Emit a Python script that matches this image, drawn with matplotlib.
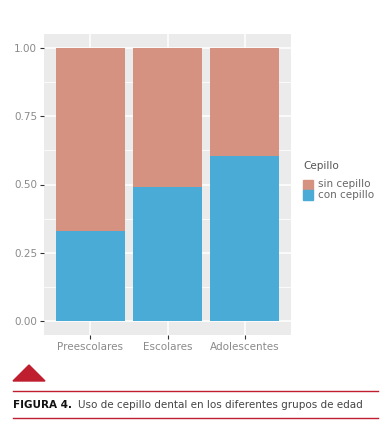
import numpy as np
import matplotlib.pyplot as plt
from matplotlib.patches import Polygon, Rectangle

# data
grupos = ['Preescolares', 'Escolares', 'Adolescentes']
con_cepillo = [0.33, 0.49, 0.605]
sin_cepillo = [1 - v for v in con_cepillo]
yticks = [0.0, 0.25, 0.5, 0.75, 1.0]

c_sin = '#D59281'
c_con = '#4BABD7'
tick_col = '#8a8a8a'

fig = plt.figure(figsize=(3.89, 4.43), dpi=100)
W, H = 389, 443
ax = fig.add_axes([44 / W, 1 - 335 / H, (291 - 44) / W, (335 - 34) / H])
ax.set_facecolor('#EBEBEB')

x = np.arange(1, len(grupos) + 1)
ax.bar(x, con_cepillo, width=0.9, color=c_con, zorder=3)
ax.bar(x, sin_cepillo, width=0.9, bottom=con_cepillo, color=c_sin, zorder=3)

ax.set_xlim(0.4, 3.6)
ax.set_ylim(-0.05, 1.05)
ax.set_yticks(yticks)
ax.set_yticklabels(['0.00', '0.25', '0.50', '0.75', '1.00'])
ax.set_yticks([0.125, 0.375, 0.625, 0.875], minor=True)
ax.set_xticks(x)
ax.set_xticklabels(grupos)
ax.grid(True, which='major', color='white', linewidth=1.1, zorder=0)
ax.grid(True, which='minor', axis='y', color='white', linewidth=0.55, zorder=0)
ax.tick_params(which='minor', length=0)
ax.tick_params(which='major', length=3, width=0.8, color='#333333',
               labelsize=7.5, labelcolor=tick_col, pad=2)
for s in ax.spines.values():
    s.set_visible(False)

# legend
fig.text(303 / W, 1 - 166 / H, 'Cepillo', fontsize=7.5, color='#555555', va='center')
fig.patches.append(Rectangle((303 / W, 1 - 190 / H), 10 / W, 10 / H,
                             transform=fig.transFigure, color=c_sin, figure=fig))
fig.patches.append(Rectangle((303 / W, 1 - 200 / H), 10 / W, 10 / H,
                             transform=fig.transFigure, color=c_con, figure=fig))
fig.text(318 / W, 1 - 184 / H, 'sin cepillo', fontsize=7.5, color='#666666', va='center')
fig.text(318 / W, 1 - 195 / H, 'con cepillo', fontsize=7.5, color='#666666', va='center')

# caption decoration
red = '#BF1E2E'
fig.patches.append(Polygon([(13 / W, 1 - 381 / H), (45 / W, 1 - 381 / H), (29 / W, 1 - 365 / H)],
                           closed=True, transform=fig.transFigure, color=red, figure=fig))
fig.add_artist(plt.Line2D([13 / W, 378 / W], [1 - 391 / H, 1 - 391 / H],
                          transform=fig.transFigure, color=red, linewidth=1))
fig.add_artist(plt.Line2D([13 / W, 378 / W], [1 - 418 / H, 1 - 418 / H],
                          transform=fig.transFigure, color=red, linewidth=1))
fig.text(13 / W, 1 - 405 / H, 'FIGURA 4.', fontsize=7.5, fontweight='heavy',
         color='#111111', va='center')
fig.text(78 / W, 1 - 405 / H, 'Uso de cepillo dental en los diferentes grupos de edad',
         fontsize=7.5, color='#444444', va='center')

fig.savefig('out.png', dpi=100)
